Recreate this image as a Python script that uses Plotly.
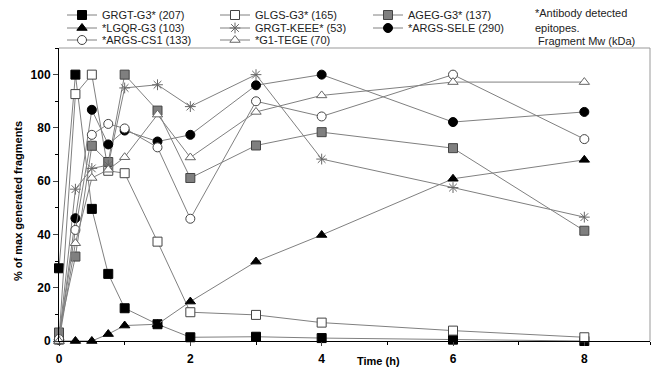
import plotly.graph_objects as go

time_h = [0, 0.25, 0.5, 0.75, 1, 1.5, 2, 3, 4, 6, 8]

grgt_g3 = [27.3, 100, 49.6, 25.2, 12.3, 6.3, 1.4, 1.6, 1.1, 0.5, 0.0]
glgs_g3 = [0.5, 92.7, 100, 63.9, 63.0, 37.3, 10.8, 9.8, 6.9, 3.9, 1.4]
ageg_g3 = [3.2, 31.7, 73.3, 67.2, 100, 86.5, 61.2, 73.4, 78.4, 72.4, 41.4]
lgqr_g3 = [0, 0, 0, 2.6, 5.8, 6.3, 14.8, 29.8, 39.8, 60.9, 68.0]
grgt_keee = [0.5, 57, 64.8, 66, 95, 96.2, 88, 100, 68.3, 57.6, 46.5]
args_sele = [0.5, 46.1, 86.8, 73.8, 79, 74.9, 77.4, 96, 100, 82.2, 86]
args_cs1 = [0.8, 41.7, 77.4, 81.5, 79.8, 72.7, 45.9, 90, 84.3, 100, 75.8]
g1_tege = [0, 36.7, 61.2, 64.3, 69, 85, 68.9, 86, 92.2, 97.2, 97.2]

series_names = [
    "GRGT-G3* (207)", "GLGS-G3* (165)", "AGEG-G3* (137)",
    "*LGQR-G3 (103)", "GRGT-KEEE* (53)", "*ARGS-SELE (290)",
    "*ARGS-CS1 (133)", "*G1-TEGE (70)",
]
series_values = [grgt_g3, glgs_g3, ageg_g3, lgqr_g3, grgt_keee, args_sele, args_cs1, g1_tege]
legend_rows = ["legend", "legend", "legend", "legend2", "legend2", "legend2", "legend3", "legend3"]

styles = [
    dict(symbol="square", color="black", line=dict(color="black", width=1), size=9),
    dict(symbol="square", color="white", line=dict(color="#444", width=1), size=9),
    dict(symbol="square", color="#7f7f7f", line=dict(color="#444", width=1), size=9),
    dict(symbol="triangle-up", color="black", line=dict(color="black", width=1), size=9),
    dict(symbol="asterisk-open", color="#666", line=dict(color="#666", width=1), size=9),
    dict(symbol="circle", color="black", line=dict(color="black", width=1), size=9),
    dict(symbol="circle", color="white", line=dict(color="#444", width=1), size=9),
    dict(symbol="triangle-up", color="white", line=dict(color="#666", width=1), size=9),
]

fig = go.Figure()
for name, vals, st, lg in zip(series_names, series_values, styles, legend_rows):
    fig.add_trace(go.Scatter(
        x=time_h, y=vals, name=name, mode="lines+markers",
        line=dict(color="#808080", width=1),
        marker=st, cliponaxis=False, legend=lg,
    ))

H = 373.0
def leg(ypix):
    return dict(
        orientation="h", xref="container", yref="container",
        x=62 / 656, y=1 - ypix / H, xanchor="left", yanchor="middle",
        entrywidth=108, entrywidthmode="pixels",
        font=dict(size=11, color="#222"), bgcolor="rgba(0,0,0,0)",
        itemwidth=30,
    )

fig.update_layout(
    width=656, height=373,
    margin=dict(l=59, r=6, t=48, b=32, autoexpand=False),
    paper_bgcolor="white", plot_bgcolor="white",
    font=dict(family="Liberation Sans, Arial, sans-serif", color="black", size=11),
    legend=leg(15), legend2=leg(28), legend3=leg(40),
    showlegend=True,
)
fig.update_xaxes(
    range=[0, 9], tickvals=[0, 2, 4, 6, 8], ticks="outside", ticklen=4,
    ticklabelstandoff=3,
    showline=True, linecolor="black", linewidth=1, mirror=False,
    showgrid=False, zeroline=False,
    tickfont=dict(size=12, family="Liberation Sans, Arial, sans-serif", weight="bold"),
    minor=dict(dtick=1, ticks="outside", ticklen=3, tickcolor="black"),
)
fig.update_yaxes(
    range=[0, 110], tickvals=[0, 20, 40, 60, 80, 100], ticks="outside", ticklen=5,
    showline=True, linecolor="black", linewidth=1,
    showgrid=False, zeroline=False,
    tickfont=dict(size=12, family="Liberation Sans, Arial, sans-serif", weight="bold"),
    minor=dict(dtick=10, ticks="outside", ticklen=3, tickcolor="black"),
)
# top and right frame lines
fig.add_shape(type="line", xref="paper", yref="paper", x0=0, x1=1, y0=1, y1=1,
              line=dict(color="#999", width=1))
fig.add_shape(type="line", xref="paper", yref="paper", x0=1, x1=1, y0=0, y1=1,
              line=dict(color="#999", width=1))
# axis titles
fig.add_annotation(
    xref="paper", yref="paper", x=(378 - 59) / 591, y=(341 - 361) / 293,
    xanchor="center", yanchor="middle", showarrow=False,
    text="<b>Time (h)</b>", font=dict(size=11),
)
fig.add_annotation(
    xref="paper", yref="paper", x=(18 - 59) / 591, y=(341 - 201) / 293,
    xanchor="center", yanchor="middle", showarrow=False, textangle=-90,
    text="<b>% of max generated fragments</b>", font=dict(size=11),
)
note_lines = ["*Antibody detected", "epitopes.", " Fragment Mw (kDa)"]
note_y = [13, 28, 41]
for txt, yp in zip(note_lines, note_y):
    fig.add_annotation(
        xref="paper", yref="paper", x=(533 - 59) / 591, y=(341 - yp) / 293,
        xanchor="left", yanchor="middle", align="left", showarrow=False,
        text=txt.replace(" ", "&nbsp;", 1) if txt.startswith(" ") else txt,
        font=dict(size=11, color="#222"),
    )
fig.write_html(
    "out.html",
    config={"displayModeBar": False},
    post_script="document.body.style.margin='0px';document.body.style.overflow='hidden';",
)
